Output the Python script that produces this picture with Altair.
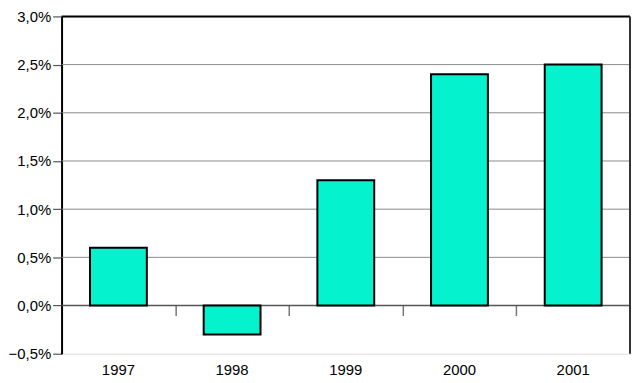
import altair as alt
import pandas as pd

# ---- data ----
years = ["1997", "1998", "1999", "2000", "2001"]
growth = [0.6, -0.3, 1.3, 2.4, 2.5]
y_tick_values = [-0.5, 0.0, 0.5, 1.0, 1.5, 2.0, 2.5, 3.0]
grid_values = [0.5, 1.0, 1.5, 2.0, 2.5]
zero_value = [0.0]
top_value = [3.0]

W, H = 573, 340
FONT = "Liberation Sans"

df = pd.DataFrame({"year": years, "value": growth})
zero_pts = pd.DataFrame({"year": years, "value": [0.0] * len(years)})

x_scale = alt.Scale(domain=years, paddingInner=0, paddingOuter=0)
y_scale = alt.Scale(domain=[-0.5, 3.0], nice=False, zero=False)

label_expr = "replace(format(datum.value, '.1f'), '.', ',') + '%'"

y_axis = alt.Axis(
    values=y_tick_values, labelExpr=label_expr, title=None, grid=False,
    domainColor="black", domainWidth=2, tickColor="#555555", tickSize=9,
    tickWidth=1.2, labelPadding=2, labelFontSize=15, labelColor="black",
    labelFont=FONT,
)

grid = alt.Chart(pd.DataFrame({"v": grid_values})).mark_rule(
    color="#8a8a8a", strokeWidth=1
).encode(y=alt.Y("v:Q", scale=y_scale, axis=y_axis))

zero = alt.Chart(pd.DataFrame({"v": zero_value})).mark_rule(
    color="#555555", strokeWidth=1.5
).encode(y=alt.Y("v:Q", scale=y_scale, axis=y_axis))

bars = alt.Chart(df).mark_bar(
    width=alt.RelativeBandSize(0.5), color="#05F2CF", stroke="black", strokeWidth=2
).encode(
    x=alt.X("year:N", scale=x_scale, sort=years, axis=alt.Axis(
        orient="bottom", domain=False, ticks=False, labelPadding=9,
        labelFontSize=15, labelAngle=0, labelColor="black", labelFont=FONT,
        title=None, grid=False)),
    y=alt.Y("value:Q", scale=y_scale, axis=y_axis),
)

top = alt.Chart(pd.DataFrame({"v": top_value})).mark_rule(
    color="black", strokeWidth=2
).encode(y=alt.Y("v:Q", scale=y_scale, axis=y_axis))

right = alt.Chart(pd.DataFrame({"v": [0]})).mark_rule(
    color="#333333", strokeWidth=2
).encode(x=alt.value(W), y=alt.value(0), y2=alt.value(H))

ticks = alt.Chart(zero_pts).mark_point(opacity=0).encode(
    x=alt.X("year:N", scale=x_scale, sort=years, axis=alt.Axis(
        orient="bottom", offset=-H / 7.0, tickBand="extent", labels=False,
        domain=False, ticks=True, tickSize=10, tickColor="#777777",
        tickWidth=1.5, title=None, grid=False)),
    y=alt.Y("value:Q", scale=y_scale, axis=y_axis),
)

chart = alt.layer(grid, zero, bars, top, right, ticks).resolve_axis(
    x="independent"
).properties(
    width=W, height=H, padding={"left": 0, "top": 0, "right": 0, "bottom": 0}
).configure_view(stroke=None).configure(font=FONT)

chart.save("out.html", embed_options={"renderer": "svg", "actions": False})
